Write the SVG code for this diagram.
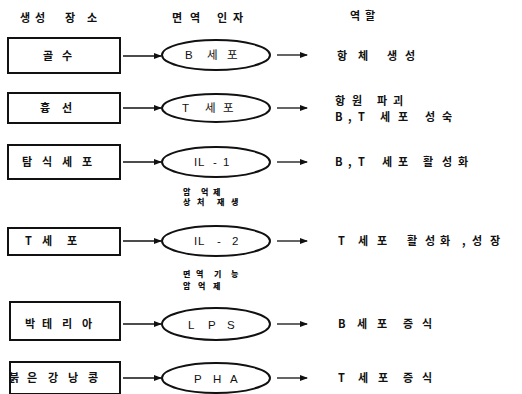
<svg xmlns="http://www.w3.org/2000/svg" width="522" height="394" viewBox="0 0 522 394">
<style>
text{font-family:"Noto Sans CJK KR","Liberation Sans",sans-serif;font-weight:bold;font-size:11px;fill:#111}
.sm{font-size:8px;font-weight:900}
.lb{font-family:"Liberation Sans","Noto Sans CJK KR",sans-serif;font-weight:normal;font-size:11.5px}
.box{fill:#fff;stroke:#111;stroke-width:2}
.ell{fill:#fff;stroke:#111;stroke-width:2}
.con line{stroke:#111;stroke-width:1.3}
</style>
<defs>
<marker id="ah" markerWidth="8" markerHeight="6" refX="7" refY="3" orient="auto" markerUnits="userSpaceOnUse">
<path d="M0,0 L8,3 L0,6 z" fill="#111"/>
</marker>
</defs>
<rect width="522" height="394" fill="#fff"/>
<g id="headers">
<text x="20 35 50 65 87" y="22">생성 장소</text>
<text x="172 190 205 217 233" y="22">면역 인자</text>
<text x="350 365" y="20">역할</text>
</g>
<g id="n1"><rect class="box" x="8" y="38" width="112" height="35"/><text x="43 62" y="60">골수</text></g>
<g id="f1"><ellipse class="ell" cx="216" cy="55" rx="54" ry="15"/><text class="lb" x="185 196 207 227" y="59">B 세포</text></g>
<g id="r1"><text x="337 358 372 387 405" y="60">항체 생성</text></g>
<g id="n2"><rect class="box" x="8" y="93" width="112" height="30"/><text x="40 62" y="112">흉선</text></g>
<g id="f2"><ellipse class="ell" cx="216" cy="108" rx="54" ry="14"/><text class="lb" x="182 194 205 223" y="112">T 세포</text></g>
<g id="r2"><text x="335 352 365 377 393" y="105">항원 파괴</text><text x="335 348 352 358 370 380 398 412 425 442" y="121">B, T 세포 성숙</text></g>
<g id="n3"><rect class="box" x="8" y="145" width="112" height="34"/><text x="22 42 62 82" y="166">탐식세포</text></g>
<g id="f3"><ellipse class="ell" cx="216" cy="162" rx="54" ry="15"/><text class="lb" x="194 198 213 223" y="166">IL-1</text></g>
<g id="r3"><text x="335 348 352 358 370 382 398 412 423 442 458" y="166">B, T 세포 활성화</text></g>
<g id="s3"><text class="sm" x="183 195 201 213" y="195">암 억제</text><text class="sm" x="183 197 210 217 231" y="205">상처 재생</text></g>
<g id="n4"><rect class="box" x="8" y="228" width="112" height="27"/><text x="25 35 42 67" y="245">T 세포</text></g>
<g id="f4"><ellipse class="ell" cx="216" cy="241" rx="54" ry="15"/><text class="lb" x="194 198 217 232" y="245">IL-2</text></g>
<g id="r4"><text x="338 348 358 377 392 407 425 440 462 466 472 490" y="245">T 세포 활성화, 성장</text></g>
<g id="s4"><text class="sm" x="183 196 207 214 231" y="277">면역 기능</text><text class="sm" x="183 194 198 213" y="289">암 억제</text></g>
<g id="n5"><rect class="box" x="10" y="302" width="110" height="38"/><text x="25 42 62 82" y="328">박테리아</text></g>
<g id="f5"><ellipse class="ell" cx="216" cy="324" rx="54" ry="16"/><text class="lb" x="188 208 227" y="329">LPS</text></g>
<g id="r5"><text x="338 348 357 377 392 403 422" y="328">B 세포 증식</text></g>
<g id="n6"><rect class="box" x="10" y="362" width="110" height="32"/><text x="9 27 40 48 68 88" y="382">붉은 강낭콩</text></g>
<g id="f6"><ellipse class="ell" cx="216" cy="378" rx="54" ry="15"/><text class="lb" x="194 213 230" y="383">PHA</text></g>
<g id="r6"><text x="338 350 358 378 392 403 422" y="382">T 세포 증식</text></g>
<g id="connectors" class="con">
<line x1="123" y1="56" x2="161" y2="56" marker-end="url(#ah)"/>
<line x1="277" y1="55" x2="307" y2="55" marker-end="url(#ah)"/>
<line x1="123" y1="108" x2="161" y2="108" marker-end="url(#ah)"/>
<line x1="277" y1="108" x2="307" y2="108" marker-end="url(#ah)"/>
<line x1="123" y1="162" x2="161" y2="162" marker-end="url(#ah)"/>
<line x1="277" y1="162" x2="307" y2="162" marker-end="url(#ah)"/>
<line x1="123" y1="241" x2="161" y2="241" marker-end="url(#ah)"/>
<line x1="277" y1="241" x2="307" y2="241" marker-end="url(#ah)"/>
<line x1="123" y1="324" x2="161" y2="324" marker-end="url(#ah)"/>
<line x1="277" y1="324" x2="307" y2="324" marker-end="url(#ah)"/>
<line x1="123" y1="378" x2="161" y2="378" marker-end="url(#ah)"/>
<line x1="277" y1="378" x2="307" y2="378" marker-end="url(#ah)"/>
</g>
</svg>
